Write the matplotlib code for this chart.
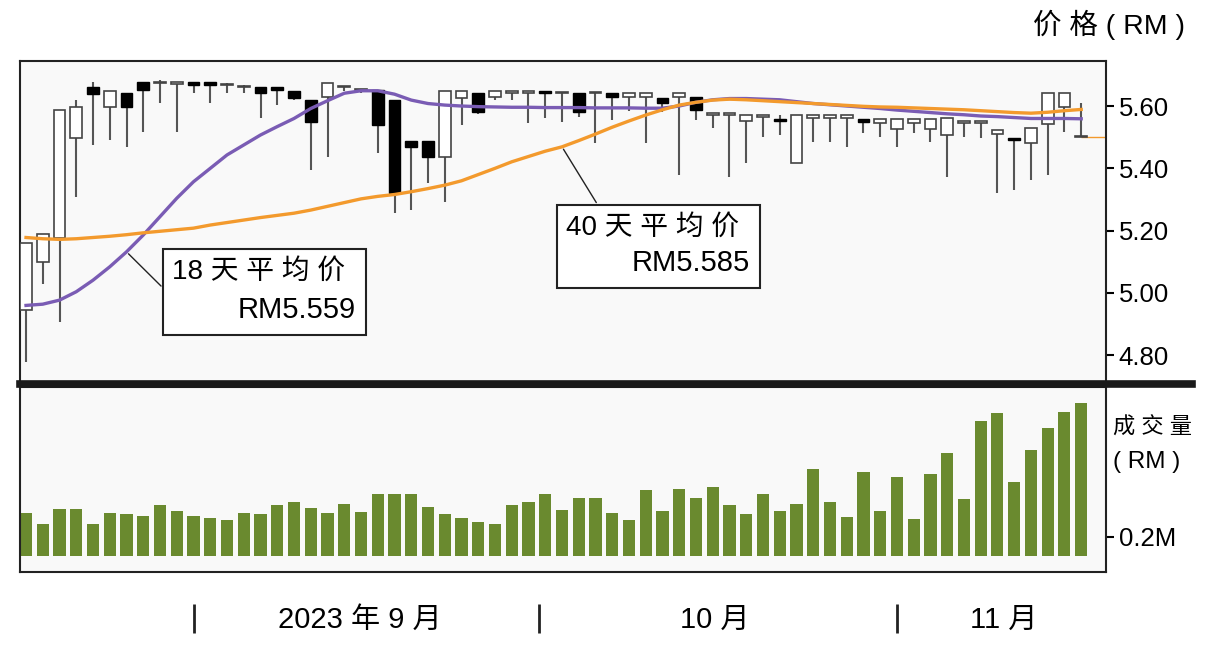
import numpy as np
import matplotlib; matplotlib.use("Agg")
import matplotlib.pyplot as plt
from matplotlib.patches import Rectangle
from matplotlib.lines import Line2D

plt.rcParams["font.family"] = ["Liberation Sans", "Noto Sans CJK SC", "DejaVu Sans"]

# ---- 数据（从图上读取，单位 RM） ----
opens  = [4.945, 5.100, 5.175, 5.496, 5.660, 5.598, 5.641, 5.678, 5.673, 5.670,
          5.676, 5.676, 5.667, 5.660, 5.660, 5.660, 5.649, 5.619, 5.630, 5.660,
          5.651, 5.651, 5.620, 5.489, 5.489, 5.437, 5.625, 5.641, 5.630, 5.641,
          5.643, 5.648, 5.641, 5.641, 5.641, 5.641, 5.630, 5.630, 5.625, 5.630,
          5.630, 5.571, 5.571, 5.553, 5.565, 5.557, 5.416, 5.563, 5.563, 5.563,
          5.557, 5.546, 5.525, 5.546, 5.525, 5.507, 5.546, 5.546, 5.510, 5.498,
          5.480, 5.542, 5.598, 5.499]
highs  = [5.159, 5.190, 5.587, 5.619, 5.678, 5.649, 5.641, 5.678, 5.683, 5.676,
          5.676, 5.676, 5.673, 5.667, 5.660, 5.660, 5.649, 5.619, 5.673, 5.660,
          5.653, 5.651, 5.620, 5.489, 5.489, 5.649, 5.649, 5.641, 5.648, 5.648,
          5.643, 5.648, 5.641, 5.641, 5.641, 5.641, 5.641, 5.641, 5.625, 5.641,
          5.630, 5.571, 5.571, 5.571, 5.571, 5.571, 5.571, 5.571, 5.571, 5.571,
          5.557, 5.557, 5.557, 5.557, 5.557, 5.560, 5.553, 5.553, 5.523, 5.498,
          5.528, 5.641, 5.641, 5.609]
lows   = [4.779, 5.030, 4.908, 5.309, 5.475, 5.491, 5.469, 5.518, 5.609, 5.518,
          5.641, 5.609, 5.641, 5.641, 5.560, 5.603, 5.619, 5.395, 5.437, 5.649,
          5.641, 5.448, 5.256, 5.266, 5.352, 5.293, 5.539, 5.575, 5.619, 5.619,
          5.544, 5.560, 5.550, 5.565, 5.480, 5.555, 5.585, 5.480, 5.582, 5.378,
          5.555, 5.530, 5.371, 5.416, 5.499, 5.507, 5.416, 5.485, 5.485, 5.469,
          5.515, 5.499, 5.469, 5.515, 5.485, 5.371, 5.499, 5.496, 5.320, 5.330,
          5.362, 5.378, 5.518, 5.499]
closes = [5.159, 5.190, 5.587, 5.598, 5.639, 5.649, 5.598, 5.651, 5.673, 5.676,
          5.667, 5.667, 5.667, 5.660, 5.641, 5.651, 5.625, 5.550, 5.673, 5.660,
          5.651, 5.539, 5.320, 5.469, 5.437, 5.649, 5.649, 5.582, 5.648, 5.648,
          5.643, 5.641, 5.641, 5.582, 5.641, 5.630, 5.641, 5.641, 5.609, 5.641,
          5.587, 5.571, 5.571, 5.571, 5.571, 5.553, 5.571, 5.571, 5.571, 5.571,
          5.548, 5.557, 5.557, 5.557, 5.557, 5.560, 5.553, 5.553, 5.523, 5.492,
          5.528, 5.641, 5.641, 5.499]
ma18 = [4.960, 4.964, 4.977, 5.004, 5.041, 5.084, 5.132, 5.186, 5.245, 5.304,
        5.357, 5.400, 5.443, 5.475, 5.507, 5.534, 5.560, 5.592, 5.617, 5.641,
        5.649, 5.649, 5.638, 5.619, 5.608, 5.603, 5.600, 5.598, 5.597, 5.596,
        5.596, 5.595, 5.595, 5.595, 5.594, 5.594, 5.594, 5.593, 5.593, 5.600,
        5.612, 5.620, 5.624, 5.624, 5.622, 5.620, 5.614, 5.608, 5.604, 5.600,
        5.596, 5.592, 5.587, 5.583, 5.579, 5.575, 5.572, 5.568, 5.566, 5.563,
        5.560, 5.560, 5.560, 5.559]
ma40 = [5.178, 5.174, 5.172, 5.174, 5.178, 5.182, 5.187, 5.193, 5.198, 5.203,
        5.208, 5.218, 5.226, 5.234, 5.242, 5.249, 5.256, 5.266, 5.278, 5.290,
        5.302, 5.310, 5.316, 5.325, 5.335, 5.346, 5.360, 5.380, 5.400, 5.421,
        5.438, 5.455, 5.469, 5.489, 5.510, 5.532, 5.552, 5.571, 5.588, 5.603,
        5.612, 5.619, 5.622, 5.620, 5.617, 5.614, 5.611, 5.608, 5.605, 5.602,
        5.599, 5.597, 5.596, 5.594, 5.592, 5.590, 5.588, 5.585, 5.582, 5.579,
        5.577, 5.580, 5.585, 5.589]
volume = [0.453, 0.330, 0.488, 0.488, 0.330, 0.453, 0.439, 0.418, 0.530, 0.467,
          0.421, 0.394, 0.376, 0.453, 0.439, 0.530, 0.568, 0.505, 0.446, 0.544,
          0.457, 0.646, 0.653, 0.653, 0.516, 0.439, 0.397, 0.352, 0.330, 0.530,
          0.565, 0.646, 0.478, 0.604, 0.604, 0.446, 0.376, 0.692, 0.470, 0.699,
          0.611, 0.720, 0.534, 0.439, 0.649, 0.474, 0.544, 0.909, 0.565, 0.410,
          0.884, 0.470, 0.832, 0.383, 0.860, 1.078, 0.600, 1.421, 1.499, 0.773,
          1.113, 1.347, 1.516, 1.611]  # 百万令吉
price_ticks = [4.80, 5.00, 5.20, 5.40, 5.60]
vol_ticks = [0.2]
month_edges = [10.0, 30.6, 52.0]
month_mid = [19.9, 41.1, 58.4]
month_labels = ["2023 年 9 月", "10 月", "11 月"]

PURPLE = "#7a5cb4"; ORANGE = "#f39a2d"; GREEN = "#6a8a2f"; PANEL = "#f9f9f9"
W, H = 1229, 652
fig = plt.figure(figsize=(W/100, H/100), dpi=100)
L, R = 20/W, 1106/W
XLIM = (-0.36, 64.48)

# ---- 价格 ----
ax = fig.add_axes([L, 1-383/H, R-L, (383-61)/H], facecolor=PANEL)
idx = np.arange(len(opens))
o, h, l, c = map(np.array, (opens, highs, lows, closes))
up = c >= o
lo = np.minimum(o, c); bh = np.maximum(np.abs(c-o), 0.005)
ax.vlines(idx, l, h, color="#555", lw=1.5, zorder=2)
ax.bar(idx[up], bh[up], bottom=lo[up], width=0.7, color="white", edgecolor="#444", lw=1.2, zorder=3)
ax.bar(idx[~up], bh[~up], bottom=lo[~up], width=0.7, color="black", edgecolor="black", lw=1.0, zorder=3)
ax.plot(idx, ma18, color=PURPLE, lw=2.4, zorder=4)
ax.plot(idx, ma40, color=ORANGE, lw=2.4, zorder=4)
ax.hlines(closes[-1], idx[-1], XLIM[1], color=ORANGE, lw=1.0, zorder=2)
ax.set_xlim(*XLIM); ax.set_ylim(4.711, 5.7445)
ax.set_xticks([])
ax.yaxis.tick_right()
ax.set_yticks(price_ticks, [f"{v:.2f}" for v in price_ticks])
ax.tick_params(axis="y", labelsize=18.5, length=6, width=1.5, pad=3)
for s in ax.spines.values(): s.set_linewidth(1.5); s.set_color("#222")

# 注释框
def label_box(x0, y0, x1, y1, t1, t2, xy, start):
    ax.add_patch(Rectangle((x0, y1), x1-x0, y0-y1, transform=ax.transAxes,
                 facecolor="white", edgecolor="#222", lw=1.5, zorder=6))
    ax.text(x0+0.008, y0-0.072, t1, transform=ax.transAxes, ha="left", va="center", fontsize=20, zorder=7)
    ax.text(x1-0.009, y1+0.078, t2, transform=ax.transAxes, ha="right", va="center", fontsize=21, zorder=7)
    ax.annotate("", xy=xy, xytext=start, textcoords="axes fraction",
                arrowprops=dict(arrowstyle="-", color="#222", lw=1.0), zorder=5)

label_box(0.1317, 0.416, 0.3186, 0.149, "18 天 平 均 价", "RM5.559", (6, ma18[6]), (0.1317, 0.295))
label_box(0.4945, 0.553, 0.6814, 0.295, "40 天 平 均 价", "RM5.585", (32, ma40[32]), (0.532, 0.553))

# ---- 成交量 ----
ax2 = fig.add_axes([L, 1-572/H, R-L, (572-387)/H], facecolor=PANEL)
ax2.bar(idx, volume, width=0.72, color=GREEN, zorder=2)
ax2.set_xlim(*XLIM); ax2.set_ylim(-0.172, 1.776)
ax2.set_xticks([])
ax2.yaxis.tick_right()
ax2.set_yticks(vol_ticks, [f"{v}M" for v in vol_ticks])
ax2.tick_params(axis="y", labelsize=18.5, length=6, width=1.5, pad=3)
for s in ax2.spines.values(): s.set_linewidth(1.5); s.set_color("#222")

# 分隔粗线
fig.add_artist(Line2D([L, 1192/W], [1-384/H]*2, color="#1a1a1a", lw=5.5))

# ---- 月份 ----
ax3 = fig.add_axes([L, 0.02, R-L, 0.1]); ax3.axis("off")
ax3.set_xlim(*XLIM); ax3.set_ylim(0, 1)
ax3.vlines(month_edges, 0.092, 0.537, color="#222", lw=2)
for m, t in zip(month_mid, month_labels):
    ax3.text(m, 0.30, t, ha="center", va="center", fontsize=21)

fig.text(1185/W, 1-25/H, "价 格 ( RM )", ha="right", va="center", fontsize=20.5)
fig.text(1113/W, 1-428/H, "成 交 量", ha="left", va="center", fontsize=16)
fig.text(1113/W, 1-462/H, "( RM )", ha="left", va="center", fontsize=17.5)

plt.savefig("out.png", dpi=100)
